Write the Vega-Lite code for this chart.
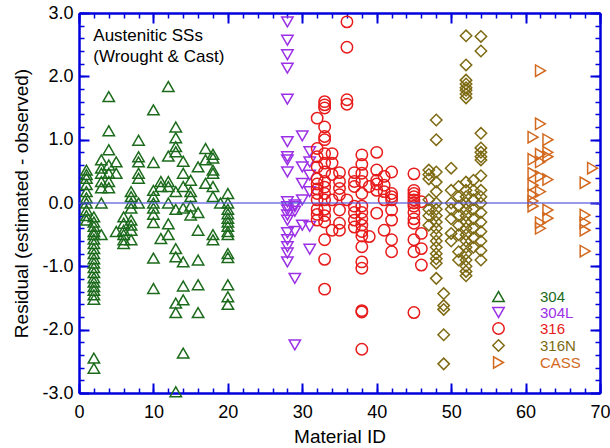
{
"$schema": "https://vega.github.io/schema/vega-lite/v6.json",
"width": 521, "height": 380,
"autosize": {"type": "none"},
"padding": {"left": 79, "top": 13, "right": 10, "bottom": 55},
"background": "white",
"config": {"view": {"stroke": null}, "font": "Liberation Sans",
  "axis": {"domainColor": "#0000dd", "tickColor": "#0000dd", "domainWidth": 2.5, "labelColor": "black", "titleColor": "black", "labelFont": "Liberation Sans", "titleFont": "Liberation Sans", "grid": false}},
"datasets": {"pts": [
{"s":"304","x":1,"y":0.52},{"s":"304","x":1,"y":0.45},{"s":"304","x":1,"y":0.39},{"s":"304","x":1,"y":0.29},{"s":"304","x":1,"y":0.18},{"s":"304","x":1,"y":0.08},{"s":"304","x":1,"y":0.0},{"s":"304","x":1,"y":-0.11},{"s":"304","x":1,"y":-0.2},{"s":"304","x":1,"y":-0.27},
{"s":"304","x":2,"y":-0.22},{"s":"304","x":2,"y":-0.3},{"s":"304","x":2,"y":-0.37},{"s":"304","x":2,"y":-0.45},{"s":"304","x":2,"y":-0.5},{"s":"304","x":2,"y":-0.57},{"s":"304","x":2,"y":-0.64},{"s":"304","x":2,"y":-0.72},{"s":"304","x":2,"y":-0.8},{"s":"304","x":2,"y":-0.88},{"s":"304","x":2,"y":-0.95},{"s":"304","x":2,"y":-1.02},{"s":"304","x":2,"y":-1.1},{"s":"304","x":2,"y":-1.18},{"s":"304","x":2,"y":-1.25},{"s":"304","x":2,"y":-1.32},{"s":"304","x":2,"y":-1.38},{"s":"304","x":2,"y":-1.45},{"s":"304","x":2,"y":-1.52},{"s":"304","x":2,"y":-2.45},{"s":"304","x":2,"y":-2.61},
{"s":"304","x":3,"y":0.68},{"s":"304","x":3,"y":0.55},{"s":"304","x":3,"y":0.47},{"s":"304","x":3,"y":0.34},{"s":"304","x":3,"y":0.24},{"s":"304","x":3,"y":0.0},{"s":"304","x":3,"y":-0.5},
{"s":"304","x":4,"y":1.68},{"s":"304","x":4,"y":1.14},{"s":"304","x":4,"y":0.84},{"s":"304","x":4,"y":0.6},{"s":"304","x":4,"y":0.47},{"s":"304","x":4,"y":0.34},{"s":"304","x":4,"y":0.24},
{"s":"304","x":5,"y":0.65},{"s":"304","x":5,"y":0.47},{"s":"304","x":5,"y":-0.45},
{"s":"304","x":6,"y":-0.22},{"s":"304","x":6,"y":-0.32},{"s":"304","x":6,"y":-0.43},{"s":"304","x":6,"y":-0.5},{"s":"304","x":6,"y":-0.58},{"s":"304","x":6,"y":-0.64},
{"s":"304","x":7,"y":0.18},{"s":"304","x":7,"y":0.1},{"s":"304","x":7,"y":0.0},{"s":"304","x":7,"y":-0.08},{"s":"304","x":7,"y":-0.27},{"s":"304","x":7,"y":-0.35},{"s":"304","x":7,"y":-0.43},{"s":"304","x":7,"y":-0.58},
{"s":"304","x":8,"y":0.99},{"s":"304","x":8,"y":0.73},{"s":"304","x":8,"y":0.65},{"s":"304","x":8,"y":0.47},{"s":"304","x":8,"y":0.39},{"s":"304","x":8,"y":0.0},
{"s":"304","x":10,"y":1.47},{"s":"304","x":10,"y":0.64},{"s":"304","x":10,"y":0.2},{"s":"304","x":10,"y":0.1},{"s":"304","x":10,"y":0.0},{"s":"304","x":10,"y":-0.08},{"s":"304","x":10,"y":-0.18},{"s":"304","x":10,"y":-0.31},{"s":"304","x":10,"y":-0.87},{"s":"304","x":10,"y":-1.35},
{"s":"304","x":11,"y":0.34},{"s":"304","x":11,"y":0.26},{"s":"304","x":11,"y":-0.56},
{"s":"304","x":12,"y":1.84},{"s":"304","x":12,"y":0.74},{"s":"304","x":12,"y":0.34},{"s":"304","x":12,"y":0.26},{"s":"304","x":12,"y":0.0},{"s":"304","x":12,"y":-0.33},{"s":"304","x":12,"y":-0.5},
{"s":"304","x":13,"y":1.2},{"s":"304","x":13,"y":1.03},{"s":"304","x":13,"y":0.89},{"s":"304","x":13,"y":0.81},{"s":"304","x":13,"y":0.18},{"s":"304","x":13,"y":-0.1},{"s":"304","x":13,"y":-0.72},{"s":"304","x":13,"y":-0.85},{"s":"304","x":13,"y":-1.58},{"s":"304","x":13,"y":-1.73},{"s":"304","x":13,"y":-2.98},
{"s":"304","x":14,"y":0.66},{"s":"304","x":14,"y":0.47},{"s":"304","x":14,"y":0.26},{"s":"304","x":14,"y":-0.08},{"s":"304","x":14,"y":-0.93},{"s":"304","x":14,"y":-1.31},{"s":"304","x":14,"y":-1.53},{"s":"304","x":14,"y":-2.37},
{"s":"304","x":15,"y":0.36},{"s":"304","x":15,"y":0.18},{"s":"304","x":15,"y":0.1},{"s":"304","x":15,"y":-0.05},{"s":"304","x":15,"y":-0.19},
{"s":"304","x":16,"y":0.57},{"s":"304","x":16,"y":-0.15},{"s":"304","x":16,"y":-0.43},{"s":"304","x":16,"y":-0.9},{"s":"304","x":16,"y":-1.29},{"s":"304","x":16,"y":-1.73},
{"s":"304","x":17,"y":0.86},{"s":"304","x":17,"y":0.68},{"s":"304","x":17,"y":0.31},
{"s":"304","x":18,"y":0.77},{"s":"304","x":18,"y":0.71},{"s":"304","x":18,"y":0.52},{"s":"304","x":18,"y":0.47},{"s":"304","x":18,"y":0.26},{"s":"304","x":18,"y":0.1},{"s":"304","x":18,"y":-0.5},{"s":"304","x":18,"y":-0.58},
{"s":"304","x":19,"y":0.0},
{"s":"304","x":20,"y":0.15},{"s":"304","x":20,"y":0.0},{"s":"304","x":20,"y":-0.1},{"s":"304","x":20,"y":-0.17},{"s":"304","x":20,"y":-0.24},{"s":"304","x":20,"y":-0.3},{"s":"304","x":20,"y":-0.37},{"s":"304","x":20,"y":-0.45},{"s":"304","x":20,"y":-0.5},{"s":"304","x":20,"y":-0.8},{"s":"304","x":20,"y":-0.86},{"s":"304","x":20,"y":-1.29},{"s":"304","x":20,"y":-1.48},{"s":"304","x":20,"y":-1.6},
{"s":"304L","x":28,"y":2.86},{"s":"304L","x":28,"y":2.57},{"s":"304L","x":28,"y":2.34},{"s":"304L","x":28,"y":2.13},{"s":"304L","x":28,"y":1.64},{"s":"304L","x":28,"y":0.97},{"s":"304L","x":28,"y":0.73},{"s":"304L","x":28,"y":0.68},{"s":"304L","x":28,"y":0.49},{"s":"304L","x":28,"y":0.02},{"s":"304L","x":28,"y":-0.06},{"s":"304L","x":28,"y":-0.11},{"s":"304L","x":28,"y":-0.19},{"s":"304L","x":28,"y":-0.27},{"s":"304L","x":28,"y":-0.47},{"s":"304L","x":28,"y":-0.58},{"s":"304L","x":28,"y":-0.69},{"s":"304L","x":28,"y":-0.79},{"s":"304L","x":28,"y":-0.93},
{"s":"304L","x":29,"y":-0.03},{"s":"304L","x":29,"y":-0.06},{"s":"304L","x":29,"y":-0.13},{"s":"304L","x":29,"y":-0.45},{"s":"304L","x":29,"y":-1.19},{"s":"304L","x":29,"y":-2.24},
{"s":"304L","x":30,"y":1.06},{"s":"304L","x":30,"y":0.57},{"s":"304L","x":30,"y":0.31},{"s":"304L","x":30,"y":0.05},{"s":"304L","x":30,"y":-0.35},
{"s":"304L","x":31,"y":0.81},{"s":"304L","x":31,"y":0.65},{"s":"304L","x":31,"y":0.44},{"s":"304L","x":31,"y":0.18},{"s":"304L","x":31,"y":-0.37},{"s":"304L","x":31,"y":-0.73},
{"s":"316","x":32,"y":1.34},{"s":"316","x":32,"y":0.86},{"s":"316","x":32,"y":0.73},{"s":"316","x":32,"y":0.57},{"s":"316","x":32,"y":0.38},{"s":"316","x":32,"y":0.3},{"s":"316","x":32,"y":0.22},{"s":"316","x":32,"y":0.15},{"s":"316","x":32,"y":0.05},{"s":"316","x":32,"y":-0.1},{"s":"316","x":32,"y":-0.18},{"s":"316","x":32,"y":-0.27},
{"s":"316","x":33,"y":1.6},{"s":"316","x":33,"y":1.55},{"s":"316","x":33,"y":1.5},{"s":"316","x":33,"y":1.2},{"s":"316","x":33,"y":1.05},{"s":"316","x":33,"y":1.0},{"s":"316","x":33,"y":0.78},{"s":"316","x":33,"y":0.63},{"s":"316","x":33,"y":0.49},{"s":"316","x":33,"y":0.34},{"s":"316","x":33,"y":0.25},{"s":"316","x":33,"y":0.15},{"s":"316","x":33,"y":0.05},{"s":"316","x":33,"y":-0.1},{"s":"316","x":33,"y":-0.2},{"s":"316","x":33,"y":-0.3},{"s":"316","x":33,"y":-0.58},{"s":"316","x":33,"y":-0.89},{"s":"316","x":33,"y":-1.36},
{"s":"316","x":34,"y":0.78},{"s":"316","x":34,"y":0.63},{"s":"316","x":34,"y":0.45},{"s":"316","x":34,"y":0.05},{"s":"316","x":34,"y":-0.43},
{"s":"316","x":35,"y":0.48},{"s":"316","x":35,"y":0.34},{"s":"316","x":35,"y":0.23},{"s":"316","x":35,"y":0.13},{"s":"316","x":35,"y":-0.11},{"s":"316","x":35,"y":-0.32},{"s":"316","x":35,"y":-0.43},
{"s":"316","x":36,"y":2.86},{"s":"316","x":36,"y":2.46},{"s":"316","x":36,"y":1.63},{"s":"316","x":36,"y":1.56},{"s":"316","x":36,"y":0.05},
{"s":"316","x":37,"y":0.48},{"s":"316","x":37,"y":0.34},{"s":"316","x":37,"y":0.26},{"s":"316","x":37,"y":-0.05},{"s":"316","x":37,"y":-0.15},{"s":"316","x":37,"y":-0.27},{"s":"316","x":37,"y":-0.38},
{"s":"316","x":38,"y":0.76},{"s":"316","x":38,"y":0.61},{"s":"316","x":38,"y":0.47},{"s":"316","x":38,"y":0.34},{"s":"316","x":38,"y":0.15},{"s":"316","x":38,"y":-0.05},{"s":"316","x":38,"y":-0.15},{"s":"316","x":38,"y":-0.25},{"s":"316","x":38,"y":-0.35},{"s":"316","x":38,"y":-0.45},{"s":"316","x":38,"y":-0.52},{"s":"316","x":38,"y":-0.69},{"s":"316","x":38,"y":-0.93},{"s":"316","x":38,"y":-1.03},{"s":"316","x":38,"y":-1.7},{"s":"316","x":38,"y":-1.72},{"s":"316","x":38,"y":-2.31},
{"s":"316","x":39,"y":0.26},{"s":"316","x":39,"y":-0.53},
{"s":"316","x":40,"y":0.8},{"s":"316","x":40,"y":0.52},{"s":"316","x":40,"y":0.36},{"s":"316","x":40,"y":0.3},{"s":"316","x":40,"y":0.2},{"s":"316","x":40,"y":-0.16},
{"s":"316","x":41,"y":0.42},{"s":"316","x":41,"y":0.28},{"s":"316","x":41,"y":0.18},{"s":"316","x":41,"y":0.05},{"s":"316","x":41,"y":-0.43},
{"s":"316","x":42,"y":0.49},{"s":"316","x":42,"y":0.15},{"s":"316","x":42,"y":0.1},{"s":"316","x":42,"y":0.05},{"s":"316","x":42,"y":-0.11},{"s":"316","x":42,"y":-0.27},{"s":"316","x":42,"y":-0.58},{"s":"316","x":42,"y":-0.77},
{"s":"316","x":45,"y":0.46},{"s":"316","x":45,"y":0.2},{"s":"316","x":45,"y":0.15},{"s":"316","x":45,"y":0.1},{"s":"316","x":45,"y":0.05},{"s":"316","x":45,"y":0.0},{"s":"316","x":45,"y":-0.05},{"s":"316","x":45,"y":-0.15},{"s":"316","x":45,"y":-0.25},{"s":"316","x":45,"y":-0.32},{"s":"316","x":45,"y":-0.58},{"s":"316","x":45,"y":-0.77},{"s":"316","x":45,"y":-1.73},
{"s":"316","x":46,"y":0.02},{"s":"316","x":46,"y":-0.48},{"s":"316","x":46,"y":-0.72},{"s":"316","x":46,"y":-0.98},
{"s":"316N","x":47,"y":0.52},{"s":"316N","x":47,"y":0.45},{"s":"316N","x":47,"y":0.38},{"s":"316N","x":47,"y":0.05},{"s":"316N","x":47,"y":-0.1},{"s":"316N","x":47,"y":-0.2},{"s":"316N","x":47,"y":-0.35},
{"s":"316N","x":48,"y":1.31},{"s":"316N","x":48,"y":1.0},{"s":"316N","x":48,"y":0.49},{"s":"316N","x":48,"y":0.33},{"s":"316N","x":48,"y":0.18},{"s":"316N","x":48,"y":0.0},{"s":"316N","x":48,"y":-0.1},{"s":"316N","x":48,"y":-0.2},{"s":"316N","x":48,"y":-0.3},{"s":"316N","x":48,"y":-0.4},{"s":"316N","x":48,"y":-0.5},{"s":"316N","x":48,"y":-0.6},{"s":"316N","x":48,"y":-0.7},{"s":"316N","x":48,"y":-0.8},{"s":"316N","x":48,"y":-0.88},{"s":"316N","x":48,"y":-0.95},{"s":"316N","x":48,"y":-1.19},
{"s":"316N","x":49,"y":-1.43},{"s":"316N","x":49,"y":-1.62},{"s":"316N","x":49,"y":-1.68},{"s":"316N","x":49,"y":-2.08},{"s":"316N","x":49,"y":-2.54},
{"s":"316N","x":50,"y":0.55},{"s":"316N","x":50,"y":0.2},{"s":"316N","x":50,"y":0.0},{"s":"316N","x":50,"y":-0.1},{"s":"316N","x":50,"y":-0.25},{"s":"316N","x":50,"y":-0.48},{"s":"316N","x":50,"y":-0.6},
{"s":"316N","x":51,"y":0.26},{"s":"316N","x":51,"y":0.1},{"s":"316N","x":51,"y":-0.05},{"s":"316N","x":51,"y":-0.2},{"s":"316N","x":51,"y":-0.35},{"s":"316N","x":51,"y":-0.5},{"s":"316N","x":51,"y":-0.77},{"s":"316N","x":51,"y":-0.9},
{"s":"316N","x":52,"y":2.64},{"s":"316N","x":52,"y":2.18},{"s":"316N","x":52,"y":1.94},{"s":"316N","x":52,"y":1.88},{"s":"316N","x":52,"y":1.82},{"s":"316N","x":52,"y":1.78},{"s":"316N","x":52,"y":1.72},{"s":"316N","x":52,"y":1.66},{"s":"316N","x":52,"y":0.33},{"s":"316N","x":52,"y":0.2},{"s":"316N","x":52,"y":0.1},{"s":"316N","x":52,"y":0.0},{"s":"316N","x":52,"y":-0.1},{"s":"316N","x":52,"y":-0.2},{"s":"316N","x":52,"y":-0.3},{"s":"316N","x":52,"y":-0.4},{"s":"316N","x":52,"y":-0.5},{"s":"316N","x":52,"y":-0.6},{"s":"316N","x":52,"y":-0.7},{"s":"316N","x":52,"y":-0.8},{"s":"316N","x":52,"y":-0.9},{"s":"316N","x":52,"y":-1.0},{"s":"316N","x":52,"y":-1.08},{"s":"316N","x":52,"y":-1.15},
{"s":"316N","x":53,"y":0.36},{"s":"316N","x":53,"y":0.2},{"s":"316N","x":53,"y":0.05},{"s":"316N","x":53,"y":-0.1},{"s":"316N","x":53,"y":-0.25},{"s":"316N","x":53,"y":-0.4},{"s":"316N","x":53,"y":-0.55},{"s":"316N","x":53,"y":-0.7},
{"s":"316N","x":54,"y":2.63},{"s":"316N","x":54,"y":2.4},{"s":"316N","x":54,"y":1.1},{"s":"316N","x":54,"y":0.87},{"s":"316N","x":54,"y":0.8},{"s":"316N","x":54,"y":0.73},{"s":"316N","x":54,"y":0.68},{"s":"316N","x":54,"y":0.43},{"s":"316N","x":54,"y":0.2},{"s":"316N","x":54,"y":0.1},{"s":"316N","x":54,"y":0.0},{"s":"316N","x":54,"y":-0.15},{"s":"316N","x":54,"y":-0.3},{"s":"316N","x":54,"y":-0.45},{"s":"316N","x":54,"y":-0.6},{"s":"316N","x":54,"y":-0.75},{"s":"316N","x":54,"y":-0.9},
{"s":"CASS","x":61,"y":1.04},{"s":"CASS","x":61,"y":0.69},{"s":"CASS","x":61,"y":0.47},{"s":"CASS","x":61,"y":0.28},{"s":"CASS","x":61,"y":0.13},{"s":"CASS","x":61,"y":0.03},{"s":"CASS","x":61,"y":-0.05},
{"s":"CASS","x":62,"y":2.09},{"s":"CASS","x":62,"y":1.25},{"s":"CASS","x":62,"y":0.77},{"s":"CASS","x":62,"y":0.65},{"s":"CASS","x":62,"y":0.42},{"s":"CASS","x":62,"y":0.18},{"s":"CASS","x":62,"y":-0.31},{"s":"CASS","x":62,"y":-0.4},
{"s":"CASS","x":63,"y":1.0},{"s":"CASS","x":63,"y":0.8},{"s":"CASS","x":63,"y":0.73},{"s":"CASS","x":63,"y":0.37},{"s":"CASS","x":63,"y":-0.11},{"s":"CASS","x":63,"y":-0.24},
{"s":"CASS","x":68,"y":0.32},{"s":"CASS","x":68,"y":-0.19},{"s":"CASS","x":68,"y":-0.31},{"s":"CASS","x":68,"y":-0.43},{"s":"CASS","x":68,"y":-0.76},
{"s":"CASS","x":69,"y":0.55}
]},
"layer": [
{"data": {"name": "pts"},
 "mark": {"type": "point", "filled": false, "strokeWidth": 1.5, "size": 130, "opacity": 1},
 "encoding": {
  "x": {"field": "x", "type": "quantitative", "scale": {"domain": [0, 70], "nice": false, "zero": false},
   "axis": {"orient": "bottom", "values": [0,10,20,30,40,50,60,70], "tickSize": -10, "tickWidth": 2, "labelFontSize": 18, "labelPadding": 20, "labelFlush": false, "labelOverlap": false, "title": "Material ID", "titleFontSize": 19, "titleFontWeight": "normal", "titlePadding": 6}},
  "y": {"field": "y", "type": "quantitative", "scale": {"domain": [-3, 3], "nice": false, "zero": false},
   "axis": {"orient": "left", "values": [-3,-2,-1,0,1,2,3], "labelExpr": "(datum.value < 0 ? '-' : '') + format(abs(datum.value), '.1f')", "tickSize": -10, "tickWidth": 2, "labelFontSize": 18, "labelPadding": 16, "labelFlush": false, "labelOverlap": false, "title": "Residual (estimated - observed)", "titleFontSize": 19, "titleFontWeight": "normal", "titlePadding": 10}},
  "color": {"field": "s", "type": "nominal",
   "scale": {"domain": ["304","304L","316","316N","CASS"], "range": ["#1c6b1c","#9b30e6","#e81a1a","#7d6a12","#d2691e"]},
   "legend": {"orient": "none", "legendX": 412, "legendY": 276, "title": null, "labelFontSize": 15, "labelFont": "Liberation Sans", "labelOffset": 34, "rowPadding": -2.6, "padding": 0, "symbolStrokeWidth": 1.5, "symbolSize": 130,
     "labelColor": {"expr": "scale('color', datum.value)"}}},
  "shape": {"field": "s", "type": "nominal",
   "scale": {"domain": ["304","304L","316","316N","CASS"], "range": ["triangle-up","triangle-down","circle","diamond","triangle-right"]},
   "legend": {"orient": "none", "legendX": 412, "legendY": 276, "title": null, "labelFontSize": 15, "labelFont": "Liberation Sans", "labelOffset": 34, "rowPadding": -2.6, "padding": 0, "symbolStrokeWidth": 1.5, "symbolSize": 130,
     "labelColor": {"expr": "scale('color', datum.value)"}}}
 }},
{"data": {"values": [{}]},
 "mark": {"type": "text", "align": "left", "baseline": "alphabetic", "fontSize": 17, "font": "Liberation Sans", "color": "black"},
 "encoding": {
  "x": {"datum": 1.92, "type": "quantitative", "scale": {"domain": [0, 70], "nice": false, "zero": false},
   "axis": {"orient": "bottom", "values": [0,2,4,6,8,10,12,14,16,18,20,22,24,26,28,30,32,34,36,38,40,42,44,46,48,50,52,54,56,58,60,62,64,66,68,70], "tickSize": -5, "tickWidth": 1.5, "labels": false, "domain": false, "title": null}},
  "y": {"datum": 2.56, "type": "quantitative", "scale": {"domain": [-3, 3], "nice": false, "zero": false},
   "axis": {"orient": "left", "values": [-3,-2.8,-2.6,-2.4,-2.2,-2,-1.8,-1.6,-1.4,-1.2,-1,-0.8,-0.6,-0.4,-0.2,0,0.2,0.4,0.6,0.8,1,1.2,1.4,1.6,1.8,2,2.2,2.4,2.6,2.8,3], "tickSize": -5, "tickWidth": 1.5, "labels": false, "domain": false, "title": null}},
  "text": {"value": "Austenitic SSs"}
 }},
{"data": {"values": [{}]},
 "mark": {"type": "text", "align": "left", "baseline": "alphabetic", "fontSize": 17, "font": "Liberation Sans", "color": "black"},
 "encoding": {
  "x": {"datum": 1.92, "type": "quantitative", "scale": {"domain": [0, 70], "nice": false, "zero": false},
   "axis": {"orient": "top", "values": [0,2,4,6,8,10,12,14,16,18,20,22,24,26,28,30,32,34,36,38,40,42,44,46,48,50,52,54,56,58,60,62,64,66,68,70], "tickSize": -5, "tickWidth": 1.5, "labels": false, "domain": false, "title": null}},
  "y": {"datum": 2.23, "type": "quantitative", "scale": {"domain": [-3, 3], "nice": false, "zero": false},
   "axis": {"orient": "right", "values": [-3,-2.8,-2.6,-2.4,-2.2,-2,-1.8,-1.6,-1.4,-1.2,-1,-0.8,-0.6,-0.4,-0.2,0,0.2,0.4,0.6,0.8,1,1.2,1.4,1.6,1.8,2,2.2,2.4,2.6,2.8,3], "tickSize": -5, "tickWidth": 1.5, "labels": false, "domain": false, "title": null}},
  "text": {"value": "(Wrought & Cast)"}
 }},
{"data": {"values": [{}]},
 "mark": {"type": "rule", "color": "#5555dd", "strokeWidth": 1.5, "opacity": 0.8},
 "encoding": {
  "x": {"datum": 0, "type": "quantitative", "scale": {"domain": [0, 70], "nice": false, "zero": false},
   "axis": {"orient": "top", "values": [0,10,20,30,40,50,60,70], "tickSize": -10, "tickWidth": 2, "labels": false, "title": null}},
  "x2": {"datum": 70},
  "y": {"datum": 0, "type": "quantitative", "scale": {"domain": [-3, 3], "nice": false, "zero": false},
   "axis": {"orient": "right", "values": [-3,-2,-1,0,1,2,3], "tickSize": -10, "tickWidth": 2, "labels": false, "title": null}}
 }}
],
"resolve": {"axis": {"x": "independent", "y": "independent"}}
}
